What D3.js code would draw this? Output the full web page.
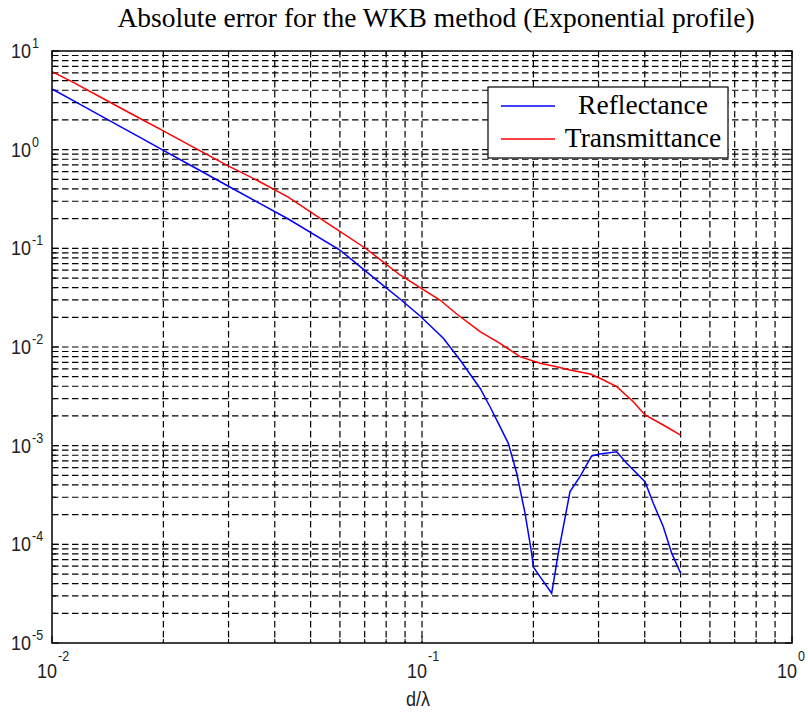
<!DOCTYPE html>
<html>
<head>
<meta charset="utf-8">
<script src="https://cdn.jsdelivr.net/npm/d3@7"></script>
<style>
  body { margin: 0; background: #fff; }
</style>
</head>
<body>
<svg id="chart"></svg>
<script>
// values
const xRefl = [0.01, 0.01142, 0.01406, 0.01729, 0.0200, 0.0236, 0.02965, 0.0357, 0.0435, 0.0600, 0.0770, 0.0872, 0.0988,
  0.1142, 0.1267, 0.1435, 0.1527, 0.1625, 0.1711, 0.1803, 0.1899, 0.1979, 0.1999, 0.2084, 0.2241, 0.2335, 0.2410,
  0.2512, 0.2673, 0.2874, 0.3027, 0.3360, 0.3574, 0.4006, 0.4218, 0.4489, 0.4732, 0.5]
const reflectance = [4.12, 3.14, 2.04, 1.332, 0.985, 0.699, 0.436, 0.297, 0.1983, 0.0962, 0.0446, 0.03066, 0.02062,
  0.01226, 0.00738, 0.00382, 0.00248, 0.001557, 0.001057, 0.000525, 0.000206, 8.1e-5, 5.9e-5, 4.7e-5, 3.19e-5, 8.1e-5, 1.51e-4,
  3.42e-4, 4.85e-4, 7.86e-4, 8.23e-4, 8.69e-4, 6.63e-4, 4.31e-4, 2.61e-4, 1.51e-4, 8.1e-5, 5.09e-5]

const xTrans = [0.01, 0.01142, 0.01406, 0.01729, 0.0200, 0.0236, 0.02965, 0.0357, 0.0435, 0.0564, 0.0702, 0.0872, 0.1118,
  0.1241, 0.1435, 0.1625, 0.184, 0.2084, 0.2312, 0.2512, 0.2845, 0.3027, 0.336, 0.3724, 0.4006, 0.4489, 0.5]
const transmittance = [6.17, 4.80, 3.15, 2.07, 1.55, 1.107, 0.698, 0.493, 0.331, 0.1724, 0.1008, 0.0537, 0.02995,
  0.0216, 0.01429, 0.0109, 0.00798, 0.00684, 0.00631, 0.00585, 0.00533, 0.00482, 0.00396, 0.00279, 0.00205, 0.00162, 0.00128]

const xDecades = [-2, -1, 0]
const yDecades = [1, 0, -1, -2, -3, -4, -5]
const seriesNames = ["Reflectance", "Transmittance"]

;(function() {
    const width = 808, height = 713
    const pLeft = 52, pRight = 792, pTop = 51, pBottom = 643

    const svg = d3.select("#chart")
        .attr("width", width)
        .attr("height", height)

    const x = d3.scaleLog().domain([0.01, 1]).range([pLeft, pRight])
    const y = d3.scaleLog().domain([1e-5, 10]).range([pBottom, pTop])

    // grid (dashed at every tick, major and minor)
    const grid = svg.append("g")
    grid.selectAll(".gx")
        .data(x.ticks().filter(d => x(d) > pLeft + 1 && x(d) < pRight - 1))
        .enter().append("line")
        .attr("x1", d => x(d)).attr("x2", d => x(d))
        .attr("y1", pTop).attr("y2", pBottom)
        .attr("stroke", "#000").attr("stroke-width", 1.2)
        .attr("stroke-dasharray", "6.5,3.5")
    grid.selectAll(".gy")
        .data(y.ticks().filter(d => y(d) > pTop + 1 && y(d) < pBottom - 1))
        .enter().append("line")
        .attr("x1", pLeft).attr("x2", pRight)
        .attr("y1", d => y(d)).attr("y2", d => y(d))
        .attr("stroke", "#000").attr("stroke-width", 1.2)
        .attr("stroke-dasharray", "6.5,3.5")

    // tick marks inside on all four sides
    const isMajor = d => Math.abs(Math.log10(d) - Math.round(Math.log10(d))) < 1e-6
    const ticks = svg.append("g").attr("stroke", "#000").attr("stroke-width", 1)
    x.ticks().forEach(d => {
        const len = isMajor(d) ? 7 : 4
        ticks.append("line").attr("x1", x(d)).attr("x2", x(d)).attr("y1", pBottom).attr("y2", pBottom - len)
        ticks.append("line").attr("x1", x(d)).attr("x2", x(d)).attr("y1", pTop).attr("y2", pTop + len)
    })
    y.ticks().forEach(d => {
        const len = isMajor(d) ? 7 : 4
        ticks.append("line").attr("y1", y(d)).attr("y2", y(d)).attr("x1", pLeft).attr("x2", pLeft + len)
        ticks.append("line").attr("y1", y(d)).attr("y2", y(d)).attr("x1", pRight).attr("x2", pRight - len)
    })

    // curves
    const line = d3.line().x(d => x(d[0])).y(d => y(d[1]))
    svg.append("path")
        .datum(xTrans.map((v, i) => [v, transmittance[i]]))
        .attr("d", line)
        .attr("fill", "none").attr("stroke", "#ff0000").attr("stroke-width", 1.5)
    svg.append("path")
        .datum(xRefl.map((v, i) => [v, reflectance[i]]))
        .attr("d", line)
        .attr("fill", "none").attr("stroke", "#0000ff").attr("stroke-width", 1.5)

    // frame
    svg.append("rect")
        .attr("x", pLeft).attr("y", pTop)
        .attr("width", pRight - pLeft).attr("height", pBottom - pTop)
        .attr("fill", "none").attr("stroke", "#000").attr("stroke-width", 1.5)

    // tick labels (the original is a little stretched vertically)
    const labelFont = "Liberation Sans, Arial, sans-serif"
    const label = (px, py, txt, size, anchor) => svg.append("text")
        .attr("transform", "translate(" + px + "," + py + ") scale(1,1.15)")
        .attr("text-anchor", anchor)
        .style("font-family", labelFont).style("font-size", size + "px").style("fill", "#222")
        .text(txt)
    yDecades.forEach(k => {
        const v = Math.pow(10, k)
        label(31, y(v) + 7, "10", 18, "end")
        label(32, y(v) - 3, k, 12.5, "start")
    })
    xDecades.forEach(k => {
        const v = Math.pow(10, k)
        label(x(v) + 5, 678, "10", 18, "end")
        label(x(v) + 6, 661, k, 12.5, "start")
    })

    label(418, 706, "d/λ", 18, "middle")

    // title
    svg.append("text")
        .attr("x", 436).attr("y", 27)
        .attr("text-anchor", "middle")
        .style("font-family", "Liberation Serif, Times New Roman, serif").style("font-size", "27.5px")
        .text("Absolute error for the WKB method (Exponential profile)")

    // legend
    const legend = svg.append("g")
    legend.append("rect")
        .attr("x", 488).attr("y", 87).attr("width", 240).attr("height", 71)
        .attr("fill", "#fff").attr("stroke", "#000").attr("stroke-width", 1.2)
    const colors = ["#0000ff", "#ff0000"]
    seriesNames.forEach((name, i) => {
        const ly = 106 + i * 33
        legend.append("line")
            .attr("x1", 501).attr("x2", 555).attr("y1", ly).attr("y2", ly)
            .attr("stroke", colors[i]).attr("stroke-width", 1.5)
        legend.append("text")
            .attr("x", 643).attr("y", ly + 8)
            .attr("text-anchor", "middle")
            .style("font-family", "Liberation Serif, Times New Roman, serif").style("font-size", "27.5px")
            .text(name)
    })
})()
</script>
</body>
</html>
